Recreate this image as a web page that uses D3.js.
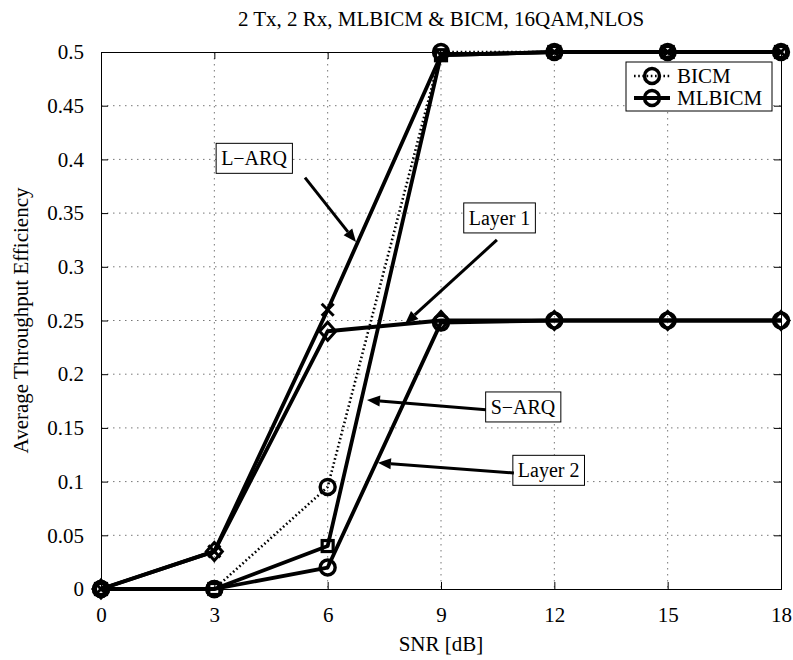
<!DOCTYPE html>
<html>
<head>
<meta charset="utf-8">
<script src="https://cdn.jsdelivr.net/npm/d3@7/dist/d3.min.js"></script>
<style>
  html, body { margin: 0; padding: 0; background: #fff; }
  text { font-family: "Liberation Serif", "DejaVu Serif", serif; fill: #000; }
</style>
</head>
<body>
<svg id="chart" width="793" height="660"></svg>
<script>
// ---- data ----
const snr = [0, 3, 6, 9, 12, 15, 18];
const lArq   = [0, 0.035, 0.26, 0.497, 0.5, 0.5, 0.5];
const layer1 = [0, 0.035, 0.24, 0.25, 0.25, 0.25, 0.25];
const sArq   = [0, 0, 0.04, 0.497, 0.5, 0.5, 0.5];
const layer2 = [0, 0, 0.02, 0.248, 0.25, 0.25, 0.25];
const bicm   = [0, 0, 0.095, 0.5, 0.5, 0.5, 0.5];
const xTicks = [0, 3, 6, 9, 12, 15, 18];
const yTicks = [0, 0.05, 0.1, 0.15, 0.2, 0.25, 0.3, 0.35, 0.4, 0.45, 0.5];
const legendLabels = ["BICM", "MLBICM"];
const titleText = "2 Tx, 2 Rx, MLBICM & BICM, 16QAM,NLOS";
const xLabel = "SNR [dB]";
const yLabel = "Average Throughput Efficiency";
const noteLabels = ["L\u2212ARQ", "Layer 1", "S\u2212ARQ", "Layer 2"];

// ---- layout ----
const L = 101, R = 781, T = 52, B = 589;
const FS = 21;
const svg = d3.select("#chart");
const x = d3.scaleLinear().domain([0, 18]).range([L, R]);
const y = d3.scaleLinear().domain([0, 0.5]).range([B, T]);

// grid
const grid = svg.append("g");
grid.selectAll("line.gx").data(xTicks.slice(1, -1)).join("line")
  .attr("x1", d => x(d)).attr("x2", d => x(d)).attr("y1", T).attr("y2", B)
  .attr("stroke", "#777").attr("stroke-width", 1).attr("stroke-dasharray", "1.5,4.5");
grid.selectAll("line.gy").data(yTicks.slice(1, -1)).join("line")
  .attr("y1", d => y(d)).attr("y2", d => y(d)).attr("x1", L).attr("x2", R)
  .attr("stroke", "#777").attr("stroke-width", 1).attr("stroke-dasharray", "1.5,4.5");

// axes (ticks inward on all sides)
const fmt = d => d3.format("")(d);
const axB = svg.append("g").attr("transform", `translate(0,${B})`)
  .call(d3.axisBottom(x).tickValues(xTicks).tickSize(-7).tickPadding(18).tickFormat(fmt));
const axT = svg.append("g").attr("transform", `translate(0,${T})`)
  .call(d3.axisTop(x).tickValues(xTicks).tickSize(-7).tickFormat(""));
const axL = svg.append("g").attr("transform", `translate(${L},0)`)
  .call(d3.axisLeft(y).tickValues(yTicks).tickSize(-7).tickPadding(17).tickFormat(fmt));
const axR = svg.append("g").attr("transform", `translate(${R},0)`)
  .call(d3.axisRight(y).tickValues(yTicks).tickSize(-7).tickFormat(""));
[axB, axT, axL, axR].forEach(a => {
  a.select(".domain").attr("stroke", "#000").attr("stroke-width", 1);
  a.selectAll(".tick line").attr("stroke", "#000").attr("stroke-width", 1);
  a.selectAll(".tick text").style("font-family", '"Liberation Serif", serif').style("font-size", FS + "px").attr("fill", "#000");
});

// series
const line = d3.line().x(d => x(d[0])).y(d => y(d[1]));
const series = [
  { v: layer2, marker: "circle", dash: null },
  { v: sArq, marker: "square", dash: null },
  { v: bicm, marker: "circle", dash: "1.6,2.6" },
  { v: layer1, marker: "diamond", dash: null },
  { v: lArq, marker: "x", dash: null },
];
series.forEach(s => {
  svg.append("path").datum(snr.map((d, i) => [d, s.v[i]]))
    .attr("d", line).attr("fill", "none").attr("stroke", "#000")
    .attr("stroke-width", s.dash ? 2.6 : 3.8).attr("stroke-linejoin", "round")
    .attr("stroke-dasharray", s.dash);
});
function drawMarker(g, type, cx, cy) {
  if (type === "circle") {
    g.append("circle").attr("cx", cx).attr("cy", cy).attr("r", 7.5)
      .attr("fill", "none").attr("stroke", "#000").attr("stroke-width", 3.4);
  } else if (type === "square") {
    g.append("rect").attr("x", cx - 5.5).attr("y", cy - 5.5).attr("width", 11).attr("height", 11)
      .attr("fill", "none").attr("stroke", "#000").attr("stroke-width", 3.2);
  } else if (type === "diamond") {
    g.append("path").attr("d", `M${cx},${cy - 9}L${cx + 8},${cy}L${cx},${cy + 9}L${cx - 8},${cy}Z`)
      .attr("fill", "none").attr("stroke", "#000").attr("stroke-width", 3);
  } else if (type === "x") {
    g.append("path").attr("d", `M${cx - 6},${cy - 6}L${cx + 6},${cy + 6}M${cx - 6},${cy + 6}L${cx + 6},${cy - 6}`)
      .attr("fill", "none").attr("stroke", "#000").attr("stroke-width", 3);
  }
}
const mg = svg.append("g");
series.forEach(s => {
  snr.forEach((d, i) => drawMarker(mg, s.marker, x(d), y(s.v[i])));
});

// annotations (box centre and arrow in data units)
const notes = [
  { c: [4.05, 0.401], from: [5.4, 0.383], to: [6.75, 0.323] },
  { c: [10.55, 0.3455], from: [10.48, 0.325], to: [8.05, 0.247] },
  { c: [11.17, 0.1695], from: [10.19, 0.167], to: [7.04, 0.176] },
  { c: [11.85, 0.1105], from: [10.93, 0.108], to: [7.33, 0.1175] },
];
const ng = svg.append("g");
notes.forEach((n, i) => {
  const x1 = x(n.from[0]), y1 = y(n.from[1]), x2 = x(n.to[0]), y2 = y(n.to[1]);
  const ang = Math.atan2(y2 - y1, x2 - x1);
  const hl = 13, hw = 5.5;
  const bx = x2 - hl * Math.cos(ang), by = y2 - hl * Math.sin(ang);
  ng.append("line").attr("x1", x1).attr("y1", y1).attr("x2", bx).attr("y2", by)
    .attr("stroke", "#000").attr("stroke-width", 3);
  ng.append("path").attr("d",
    `M${x2},${y2}L${bx + hw * Math.sin(ang)},${by - hw * Math.cos(ang)}L${bx - hw * Math.sin(ang)},${by + hw * Math.cos(ang)}Z`)
    .attr("fill", "#000");
  const t = ng.append("text").attr("x", x(n.c[0])).attr("y", y(n.c[1]))
    .attr("text-anchor", "middle").attr("dominant-baseline", "central")
    .style("font-size", "20px").text(noteLabels[i]);
  const bb = t.node().getBBox();
  ng.insert("rect", "text").attr("x", bb.x - 5).attr("y", y(n.c[1]) - 15)
    .attr("width", bb.width + 10).attr("height", 30)
    .attr("fill", "#fff").attr("stroke", "#000").attr("stroke-width", 1);
});

// legend
const lg = svg.append("g");
lg.append("rect").attr("x", 626).attr("y", 62).attr("width", 146).attr("height", 49)
  .attr("fill", "#fff").attr("stroke", "#000").attr("stroke-width", 1);
legendLabels.forEach((lab, i) => {
  const ly = 76 + i * 22;
  lg.append("line").attr("x1", 634).attr("x2", 670).attr("y1", ly).attr("y2", ly)
    .attr("stroke", "#000").attr("stroke-width", i === 0 ? 2.6 : 3.8)
    .attr("stroke-dasharray", i === 0 ? "1.6,2.6" : null);
  drawMarker(lg, "circle", 652, ly);
  lg.append("text").attr("x", 677).attr("y", ly).attr("dominant-baseline", "central")
    .style("font-size", FS + "px").text(lab);
});

// titles
svg.append("text").attr("x", (L + R) / 2).attr("y", 26).attr("text-anchor", "middle")
  .style("font-size", FS + "px").text(titleText);
svg.append("text").attr("x", (L + R) / 2).attr("y", 651).attr("text-anchor", "middle")
  .style("font-size", FS + "px").text(xLabel);
svg.append("text").attr("transform", `translate(28,${(T + B) / 2}) rotate(-90)`)
  .attr("text-anchor", "middle").style("font-size", FS + "px").text(yLabel);
</script>
</body>
</html>
